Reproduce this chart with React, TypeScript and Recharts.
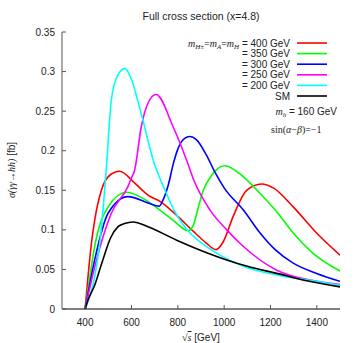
import { Line, LineChart, XAxis, YAxis } from 'recharts';

// sqrt(s) [GeV] vs sigma(gg -> hh) [fb]
const mH400: [number, number][] = [
  [400, 0], [412, 0.04], [427, 0.083], [441, 0.112], [470, 0.15], [506, 0.169], [549, 0.174],
  [614, 0.159], [671, 0.144], [723, 0.136], [800, 0.117], [867, 0.098], [920, 0.084], [965, 0.075],
  [996, 0.085], [1039, 0.117], [1097, 0.15], [1162, 0.158], [1212, 0.153], [1298, 0.129],
  [1399, 0.096], [1500, 0.068],
];
const mH350: [number, number][] = [
  [400, 0], [420, 0.04], [441, 0.079], [499, 0.129], [578, 0.1475], [671, 0.136], [723, 0.125],
  [780, 0.112], [845, 0.099], [867, 0.106], [888, 0.128], [910, 0.15], [946, 0.169], [975, 0.178],
  [1003, 0.181], [1083, 0.167], [1155, 0.146], [1227, 0.123], [1298, 0.096], [1385, 0.07],
  [1500, 0.048],
];
const mH300: [number, number][] = [
  [400, 0], [441, 0.062], [499, 0.121], [585, 0.142], [671, 0.134], [700, 0.131], [720, 0.13],
  [735, 0.137], [760, 0.158], [780, 0.183], [800, 0.202], [820, 0.213], [852, 0.218], [880, 0.214],
  [924, 0.194], [960, 0.173], [1000, 0.153], [1083, 0.125], [1155, 0.096], [1220, 0.075],
  [1298, 0.058], [1399, 0.045], [1500, 0.035],
];
const mH250: [number, number][] = [
  [400, 0], [441, 0.053], [513, 0.121], [585, 0.155], [599, 0.165], [614, 0.176], [642, 0.23],
  [671, 0.26], [706, 0.271], [780, 0.23], [838, 0.188], [870, 0.162], [939, 0.125], [1011, 0.1],
  [1083, 0.079], [1227, 0.049], [1400, 0.035], [1500, 0.031],
];
const mH200: [number, number][] = [
  [400, 0], [441, 0.041], [463, 0.083], [477, 0.125], [491, 0.176], [513, 0.264], [540, 0.295],
  [571, 0.304], [600, 0.29], [628, 0.262], [650, 0.238], [671, 0.213], [694, 0.188], [720, 0.167],
  [745, 0.15], [770, 0.133], [795, 0.119], [850, 0.097], [939, 0.076], [1083, 0.054],
  [1227, 0.043], [1400, 0.035], [1500, 0.03],
];
const smCurve: [number, number][] = [
  [400, 0], [412, 0.011], [441, 0.03], [460, 0.047], [484, 0.069], [510, 0.09], [542, 0.104],
  [570, 0.108], [606, 0.11], [671, 0.104], [795, 0.087], [900, 0.074], [1011, 0.062],
  [1100, 0.054], [1227, 0.045], [1350, 0.036], [1500, 0.028],
];

const xTicks = [400, 600, 800, 1000, 1200, 1400];
const yTicks = [0, 0.05, 0.1, 0.15, 0.2, 0.25, 0.3, 0.35];

const series = [
  { key: '400', label: '= 400 GeV', color: '#ff0000', pts: mH400 },
  { key: '350', label: '= 350 GeV', color: '#00ff00', pts: mH350 },
  { key: '300', label: '= 300 GeV', color: '#0000ff', pts: mH300 },
  { key: '250', label: '= 250 GeV', color: '#ff00ff', pts: mH250 },
  { key: '200', label: '= 200 GeV', color: '#00ffff', pts: mH200 },
  { key: 'sm', label: 'SM', color: '#000000', pts: smCurve },
];

const SANS = '"Liberation Sans", Arial, sans-serif';
const SERIF = '"Liberation Serif", "Times New Roman", serif';

const BottomTick = (p: any) => (
  <g>
    <line x1={p.x} x2={p.x} y1={p.y} y2={p.y - 4} stroke="#555" />
    <text x={p.x} y={p.y + 17} textAnchor="middle" fontSize={10} fontFamily={SANS} fill="#222">
      {p.payload.value}
    </text>
  </g>
);
const LeftTick = (p: any) => (
  <g>
    <line x1={p.x} x2={p.x + 4} y1={p.y} y2={p.y} stroke="#555" />
    <text x={p.x - 7} y={p.y + 3.5} textAnchor="end" fontSize={10} fontFamily={SANS} fill="#222">
      {p.payload.value}
    </text>
  </g>
);
const TopTick = (p: any) => <line x1={p.x} x2={p.x} y1={p.y} y2={p.y + 4} stroke="#555" />;
const RightTick = (p: any) => <line x1={p.x} x2={p.x - 4} y1={p.y} y2={p.y} stroke="#555" />;

const Overlay = () => {
  const rowY = (i: number) => 43 + i * 10.6;
  return (
    <svg width={354} height={343} style={{ position: 'absolute', left: 0, top: 0, pointerEvents: 'none' }}>
      <text x={201} y={20} textAnchor="middle" fontSize={10.5} fontFamily={SANS} fill="#222">
        Full cross section (x=4.8)
      </text>
      <text x={201} y={341} textAnchor="middle" fontSize={10} fontFamily={SANS} fill="#222">
        <tspan fontFamily={SERIF}>√</tspan>
        <tspan fontFamily={SERIF} fontStyle="italic" textDecoration="overline">s</tspan>
        <tspan> [GeV]</tspan>
      </text>
      <text transform="translate(15,170) rotate(-90)" textAnchor="middle" fontSize={10} fill="#222" fontFamily={SANS}>
        <tspan fontFamily={SERIF} fontStyle="italic">σ(γγ→hh)</tspan>
        <tspan> [fb]</tspan>
      </text>
      {series.map((s, i) => (
        <g key={s.key}>
          <line x1={297} x2={327} y1={rowY(i)} y2={rowY(i)} stroke={s.color} strokeWidth={1.6} />
          {i === 0 ? (
            <text x={290} y={rowY(i) + 3.5} textAnchor="end" fontSize={10} fontFamily={SANS} fill="#222">
              <tspan fontFamily={SERIF} fontStyle="italic">m</tspan>
              <tspan fontFamily={SERIF} fontStyle="italic" fontSize={7} dy={2}>H±</tspan>
              <tspan fontFamily={SERIF} dy={-2}>=</tspan>
              <tspan fontFamily={SERIF} fontStyle="italic">m</tspan>
              <tspan fontFamily={SERIF} fontStyle="italic" fontSize={7} dy={2}>A</tspan>
              <tspan fontFamily={SERIF} dy={-2}>=</tspan>
              <tspan fontFamily={SERIF} fontStyle="italic">m</tspan>
              <tspan fontFamily={SERIF} fontStyle="italic" fontSize={7} dy={2}>H</tspan>
              <tspan dy={-2}> {s.label}</tspan>
            </text>
          ) : (
            <text x={290} y={rowY(i) + 3.5} textAnchor="end" fontSize={10} fontFamily={SANS} fill="#222">
              {s.label}
            </text>
          )}
        </g>
      ))}
      <text x={337} y={115} textAnchor="end" fontSize={10} fontFamily={SANS} fill="#222">
        <tspan fontFamily={SERIF} fontStyle="italic">m</tspan>
        <tspan fontFamily={SERIF} fontStyle="italic" fontSize={7} dy={2}>h</tspan>
        <tspan dy={-2}> = 160 GeV</tspan>
      </text>
      <text x={271} y={132.5} fontSize={10} fontFamily={SERIF} fill="#222">
        sin(<tspan fontStyle="italic">α</tspan>−<tspan fontStyle="italic">β</tspan>)=−1
      </text>
    </svg>
  );
};

export default function App() {
  return (
    <div style={{ position: 'absolute', left: 0, top: 0, width: 354, height: 343, background: '#fff' }}>
      <LineChart width={354} height={343} margin={{ top: 32, right: 14, bottom: 4, left: 22 }}>
        <XAxis
          type="number"
          dataKey="x"
          domain={[300, 1500]}
          ticks={xTicks}
          height={30}
          tickSize={0}
          tickMargin={0}
          tickLine={false}
          tick={BottomTick}
          axisLine={{ stroke: '#000' }}
          allowDataOverflow
        />
        <XAxis
          xAxisId="top"
          orientation="top"
          type="number"
          dataKey="x"
          domain={[300, 1500]}
          ticks={xTicks}
          height={0}
          tickSize={0}
          tickMargin={0}
          tickLine={false}
          tick={TopTick}
          axisLine={{ stroke: '#000' }}
        />
        <YAxis
          type="number"
          domain={[0, 0.35]}
          ticks={yTicks}
          width={40}
          tickSize={0}
          tickMargin={0}
          tickLine={false}
          tick={LeftTick}
          axisLine={{ stroke: '#8c8c8c', strokeWidth: 1.5 }}
          allowDataOverflow
        />
        <YAxis
          yAxisId="right"
          orientation="right"
          type="number"
          domain={[0, 0.35]}
          ticks={yTicks}
          width={0}
          tickSize={0}
          tickMargin={0}
          tickLine={false}
          tick={RightTick}
          axisLine={{ stroke: '#8c8c8c', strokeWidth: 1.5 }}
        />
        {series.map((s) => (
          <Line
            key={s.key}
            data={s.pts.map(([x, y]) => ({ x, y }))}
            dataKey="y"
            type="monotone"
            stroke={s.color}
            strokeWidth={1.6}
            dot={false}
            activeDot={false}
            isAnimationActive={false}
          />
        ))}
      </LineChart>
      <Overlay />
    </div>
  );
}
